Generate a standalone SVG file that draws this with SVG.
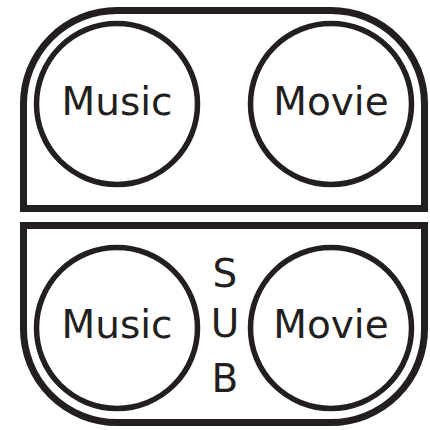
<svg xmlns="http://www.w3.org/2000/svg" width="430" height="430" viewBox="0 0 430 430">
<style>
.panel{fill:none;stroke:#231f20;stroke-width:7}
.disc{fill:none;stroke:#231f20;stroke-width:5.5}
.lbl{font-family:"DejaVu Sans","Noto Sans",sans-serif;font-size:39px;fill:#231f20;text-anchor:middle}
</style>
<rect width="430" height="430" fill="#fff"/>
<g id="top-panel"><path class="panel" d="M23.5,208.5 V104 A93.5,93.5 0 0 1 117,10.5 H331 A93.5,93.5 0 0 1 424.5,104 V208.5 Z"/></g>
<g id="bottom-panel"><path class="panel" d="M23.5,225.5 V329 A93.5,93.5 0 0 0 117,422.5 H331 A93.5,93.5 0 0 0 424.5,329 V225.5 Z"/></g>
<g id="music-top"><circle class="disc" cx="117" cy="104" r="80.5"/><text class="lbl" x="117" y="115">Music</text></g>
<g id="movie-top"><circle class="disc" cx="331" cy="104" r="80.5"/><text class="lbl" x="331" y="115">Movie</text></g>
<g id="music-bottom"><circle class="disc" cx="117" cy="328" r="80.5"/><text class="lbl" x="117" y="338">Music</text></g>
<g id="movie-bottom"><circle class="disc" cx="331" cy="328" r="80.5"/><text class="lbl" x="331" y="338">Movie</text></g>
<g id="sub"><text class="lbl" x="225" y="287">S</text><text class="lbl" x="225" y="337">U</text><text class="lbl" x="225" y="392">B</text></g>
<g id="connectors"/>
</svg>
